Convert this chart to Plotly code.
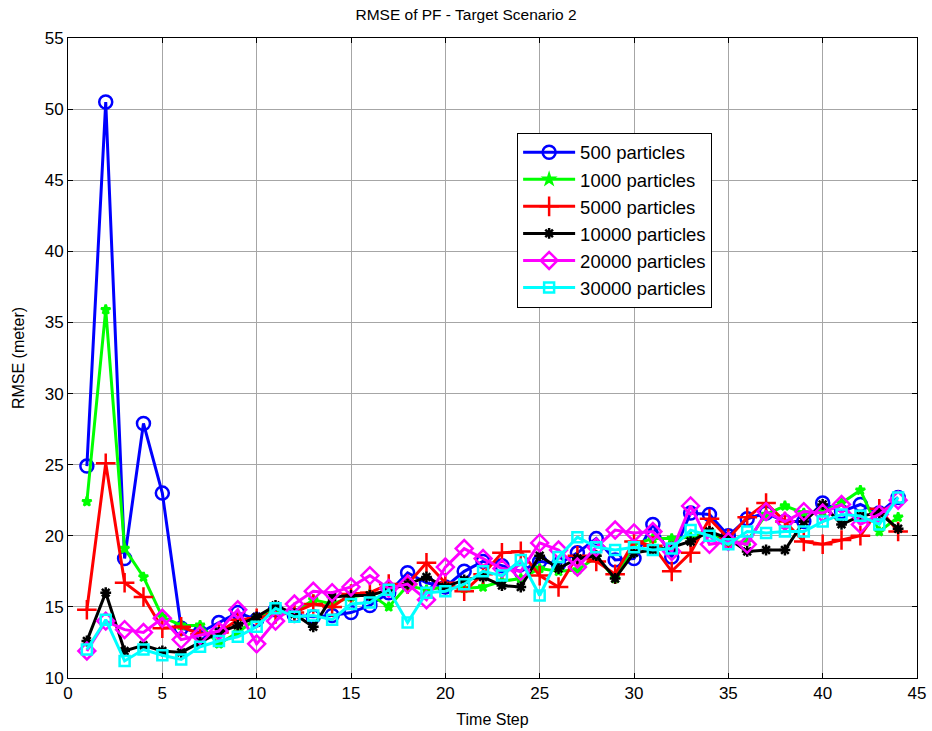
import plotly.graph_objects as go

time_steps = list(range(1, 45))

rmse_500 = [24.9, 50.5, 18.4, 27.9, 23.0, 13.5, 13.2, 13.9, 14.6, 14.1,
            14.8, 14.4, 14.3, 14.4, 14.6, 15.1, 16.0, 17.4, 16.7, 16.4,
            17.5, 18.2, 17.9, 17.5, 18.2, 18.0, 18.8, 19.8, 18.3, 18.4,
            20.8, 18.5, 21.6, 21.5, 20.0, 21.2, 21.6, 21.0, 21.0, 22.3,
            21.7, 22.2, 21.6, 22.7]
rmse_1000 = [22.4, 35.9, 19.1, 17.1, 14.3, 13.7, 13.7, 12.4, 13.2, 14.2,
             14.8, 14.6, 15.5, 15.2, 15.7, 15.9, 15.0, 16.5, 16.2, 16.4,
             16.3, 16.4, 16.8, 17.0, 17.7, 17.5, 17.6, 18.5, 17.0, 19.4,
             19.8, 19.8, 19.9, 20.3, 19.5, 19.6, 21.5, 22.1, 21.6, 21.7,
             22.3, 23.2, 20.3, 21.3]
rmse_5000 = [14.8, 25.1, 16.7, 15.7, 13.5, 13.6, 13.1, 13.2, 14.1, 14.2,
             14.5, 14.6, 15.2, 15.0, 15.9, 16.0, 16.6, 16.6, 18.1, 16.7,
             16.1, 17.3, 18.8, 18.9, 17.2, 16.4, 18.6, 18.2, 17.3, 19.6,
             19.3, 17.5, 18.8, 21.2, 19.8, 21.3, 22.3, 21.0, 19.6, 19.4,
             19.7, 20.0, 21.9, 20.3]
rmse_10000 = [12.6, 16.0, 11.9, 12.3, 11.9, 11.8, 12.5, 13.2, 13.7, 14.3,
              15.1, 14.5, 13.6, 15.7, 15.8, 15.8, 16.2, 16.6, 17.1, 16.4,
              16.9, 17.1, 16.5, 16.4, 18.6, 17.7, 18.4, 18.6, 17.0, 18.8,
              19.0, 19.2, 19.6, 20.3, 19.8, 18.9, 19.0, 19.0, 21.0, 22.2,
              20.8, 21.4, 21.6, 20.5]
rmse_20000 = [11.9, 14.0, 13.4, 13.2, 14.2, 12.7, 13.0, 13.3, 14.8, 12.4,
              14.0, 15.2, 16.1, 16.0, 16.4, 17.2, 16.3, 16.6, 15.5, 17.8,
              19.1, 18.4, 17.7, 17.5, 19.5, 19.0, 17.8, 19.2, 20.4, 20.2,
              20.3, 18.9, 22.1, 19.4, 19.6, 19.4, 21.7, 21.0, 21.7, 21.6,
              22.2, 20.8, 21.5, 22.5]
rmse_30000 = [12.0, 14.1, 11.2, 12.0, 11.6, 11.3, 12.2, 12.6, 12.9, 13.6,
              14.9, 14.3, 14.4, 14.1, 15.2, 15.3, 16.2, 13.9, 16.0, 16.1,
              16.6, 17.5, 17.2, 18.3, 15.8, 18.5, 19.9, 19.2, 19.0, 19.2,
              19.0, 19.1, 20.4, 20.0, 19.4, 20.3, 20.2, 20.3, 20.3, 21.0,
              21.5, 21.4, 20.8, 22.7]

series_names = ["500 particles", "1000 particles", "5000 particles",
                "10000 particles", "20000 particles", "30000 particles"]
series_values = [rmse_500, rmse_1000, rmse_5000, rmse_10000, rmse_20000, rmse_30000]
colors = ["#0000ff", "#00ff00", "#ff0000", "#000000", "#ff00ff", "#00ffff"]
symbols = ["circle-open", "star", "cross-thin-open", "asterisk-open", "diamond-open", "square-open"]
sizes = [13, 7, 14, 9, 13, 10]

x_ticks = [0, 5, 10, 15, 20, 25, 30, 35, 40, 45]
y_ticks = [10, 15, 20, 25, 30, 35, 40, 45, 50, 55]

FONT = "Liberation Sans, Arial, sans-serif"

fig = go.Figure()
for name, vals, col, sym, sz in zip(series_names, series_values, colors, symbols, sizes):
    fig.add_trace(go.Scatter(
        x=time_steps, y=vals, name=name, mode="lines+markers",
        line=dict(color=col, width=3),
        marker=dict(symbol=sym, size=sz, color=col, line=dict(color=col, width=2.5)),
    ))

axis_common = dict(
    showline=True, linecolor="black", linewidth=1, mirror="ticks",
    ticks="inside", ticklen=5, tickcolor="black",
    showgrid=True, gridcolor="#a6a6a6", gridwidth=1,
    zeroline=False, automargin=False,
    tickfont=dict(family=FONT, size=17, color="black"),
)

fig.update_layout(
    width=932, height=731,
    margin=dict(l=68, r=15, t=38, b=53),
    paper_bgcolor="white", plot_bgcolor="white",
    font=dict(family=FONT, size=16, color="black"),
    title=dict(text="RMSE of PF - Target Scenario 2", x=0.5, xanchor="center",
               y=0.987, yanchor="top", font=dict(family=FONT, size=15.5, color="black")),
    xaxis=dict(range=[0, 45], tickvals=x_ticks,
               title=dict(text="Time Step", font=dict(family=FONT, size=16), standoff=11),
               **axis_common),
    yaxis=dict(range=[10, 55], tickvals=y_ticks,
               title=dict(text="RMSE (meter)", font=dict(family=FONT, size=16), standoff=16),
               **axis_common),
    legend=dict(x=0.529, y=0.852, xanchor="left", yanchor="top",
                bgcolor="white", bordercolor="black", borderwidth=1,
                font=dict(family=FONT, size=18.5, color="black"),
                tracegroupgap=0, itemwidth=52),
    showlegend=True,
)

fig.write_html("out.html")
